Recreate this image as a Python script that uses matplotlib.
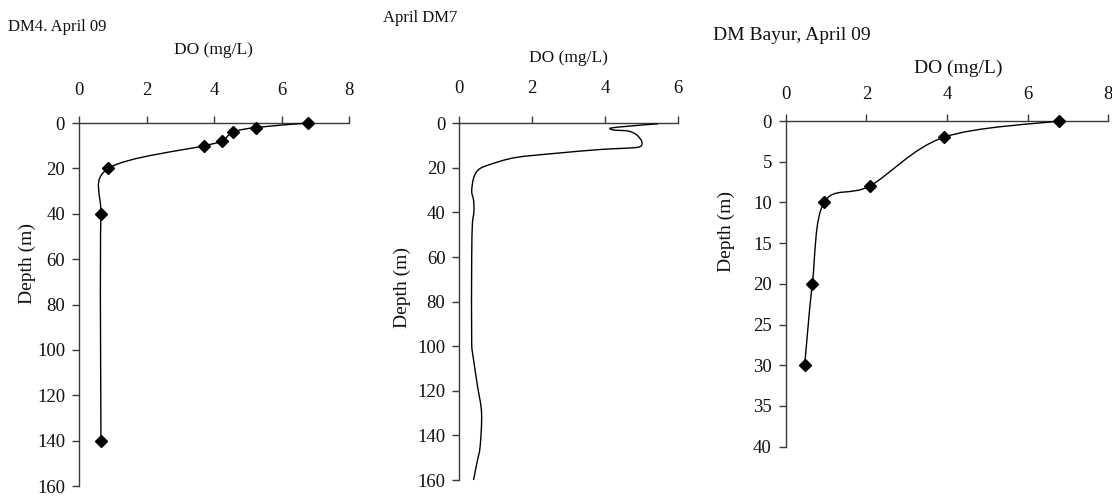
import numpy as np
import matplotlib
matplotlib.use("Agg")
import matplotlib.pyplot as plt
from matplotlib.path import Path
from matplotlib.patches import PathPatch

plt.rcParams['font.family'] = ['Liberation Serif', 'DejaVu Serif']

# ---------------- data ----------------
dm4_do = [6.78, 5.23, 4.57, 4.23, 3.71, 0.87, 0.65, 0.65]
dm4_depth = [0, 2, 4, 8, 10, 20, 40, 140]

dm7_do = [5.45, 4.63, 4.13, 4.22, 4.63, 4.86, 5.0, 4.95, 4.54, 3.9, 2.62, 1.53,
          0.8, 0.52, 0.39, 0.34, 0.39, 0.40, 0.36, 0.34, 0.34, 0.39, 0.50,
          0.61, 0.57, 0.48, 0.39]
dm7_depth = [0.2, 1.3, 2.2, 3.0, 3.5, 5.2, 8.2, 10.5, 11.2, 11.7, 13.5, 15.4,
             18.7, 20.9, 24.7, 30.5, 34.4, 39.6, 44.8, 60, 99, 106, 118,
             130, 145, 152.5, 160]

bayur_do = [6.78, 3.92, 2.08, 0.95, 0.66, 0.47]
bayur_depth = [0, 2, 8, 10, 20, 30]

titles = ["DM4. April 09", "April DM7", "DM Bayur, April 09"]
xlabel = "DO (mg/L)"
ylabel = "Depth (m)"

W, H = 1112, 499
fig = plt.figure(figsize=(W / 100, H / 100), dpi=100)


def px_axes(l, t, r, b):
    return fig.add_axes([l / W, 1 - b / H, (r - l) / W, (b - t) / H])


def _clamp(v, maxlen):
    n = np.hypot(*v)
    if n > maxlen and n > 0:
        return v * (maxlen / n)
    return v


def smooth(ax, x, y):
    pts = ax.transData.transform(np.column_stack([x, y]))
    n = len(pts)
    verts = [pts[0]]
    codes = [Path.MOVETO]
    for i in range(n - 1):
        p0 = pts[i - 1] if i > 0 else pts[i]
        p1 = pts[i]
        p2 = pts[i + 1]
        p3 = pts[i + 2] if i + 2 < n else pts[i + 1]
        seg = np.hypot(*(p2 - p1))
        c1 = p1 + _clamp((p2 - p0) / 6.0, 0.45 * seg)
        c2 = p2 - _clamp((p3 - p1) / 6.0, 0.45 * seg)
        verts += [c1, c2, p2]
        codes += [Path.CURVE4] * 3
    verts = ax.transData.inverted().transform(np.array(verts))
    ax.add_patch(PathPatch(Path(verts, codes), fill=False, lw=1.0,
                           ec='black', zorder=3, clip_on=False))


def style(ax, xmax, ymax, ystep, fs, xpad, ypad):
    ax.set_xlim(0, xmax)
    ax.set_ylim(ymax, 0)
    ax.set_xticks(np.arange(0, xmax + 0.01, 2))
    ax.set_yticks(np.arange(0, ymax + 0.01, ystep))
    for s in ['right', 'bottom']:
        ax.spines[s].set_visible(False)
    for s in ['left', 'top']:
        ax.spines[s].set_color('#3a3a3a')
        ax.spines[s].set_linewidth(1.0)
    ax.xaxis.tick_top()
    ax.tick_params(axis='x', direction='out', length=5, width=1,
                   color='#3a3a3a', labelsize=fs, pad=xpad, labelcolor='#111111')
    ax.tick_params(axis='y', direction='out', length=5, width=1,
                   color='#3a3a3a', labelsize=fs, pad=ypad, labelcolor='#111111')
    ax.patch.set_visible(False)


def ftext(x, y, s, **kw):
    fig.text(x / W, 1 - y / H, s, **kw)


# Panel 1
ax1 = px_axes(79, 123, 349, 486)
style(ax1, 8, 160, 20, 13.5, 12, 5)
smooth(ax1, dm4_do, dm4_depth)
ax1.plot(dm4_do, dm4_depth, ls='none', marker='D', ms=6, color='black',
         zorder=4, clip_on=False)

# Panel 2
ax2 = px_axes(459.3, 123.3, 678.3, 480)
style(ax2, 6, 160, 20, 13.5, 14, 5)
smooth(ax2, dm7_do, dm7_depth)

# Panel 3
ax3 = px_axes(785.7, 121, 1108.3, 446.7)
style(ax3, 8, 40, 5, 13.5, 8, 5)
smooth(ax3, bayur_do, bayur_depth)
ax3.plot(bayur_do, bayur_depth, ls='none', marker='D', ms=6, color='black',
         zorder=4, clip_on=False)

# texts
ftext(8, 27, titles[0], fontsize=12, va='center', ha='left', color='#111111')
ftext(213, 50, xlabel, fontsize=12.5, va='center', ha='center', color='#111111')
ftext(27, 263, ylabel, fontsize=14, va='center', ha='center', rotation=90, color='#111111')

ftext(383, 18, titles[1], fontsize=12, va='center', ha='left', color='#111111')
ftext(568, 58, xlabel, fontsize=12.5, va='center', ha='center', color='#111111')
ftext(402, 287, ylabel, fontsize=14, va='center', ha='center', rotation=90, color='#111111')

ftext(713, 35, titles[2], fontsize=14, va='center', ha='left', color='#111111')
ftext(958, 68, xlabel, fontsize=14, va='center', ha='center', color='#111111')
ftext(726, 232, ylabel, fontsize=14, va='center', ha='center', rotation=90, color='#111111')

fig.savefig("out.png", dpi=100)
